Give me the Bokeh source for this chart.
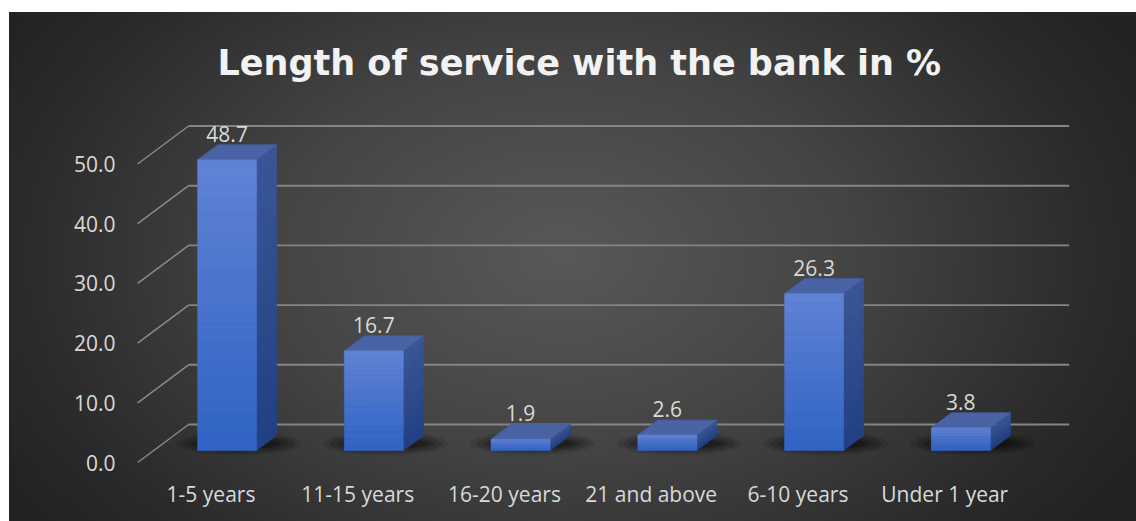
import numpy as np
from bokeh.plotting import figure
from bokeh.models import Range1d, LinearAxis, FixedTicker, NumeralTickFormatter, Title, ColumnDataSource
from bokeh.embed import file_html
from bokeh.resources import INLINE
from bokeh.core.properties import value

# ---------------- data ----------------
categories = ["1-5 years", "11-15 years", "16-20 years", "21 and above", "6-10 years", "Under 1 year"]
values = [48.7, 16.7, 1.9, 2.6, 26.3, 3.8]
y_ticks = [0, 10, 20, 30, 40, 50]
title_text = "Length of service with the bank in %"

# ---------------- layout (pixels) ----------------
W, H = 1136, 521
FRAME_L, FRAME_R, FRAME_T, FRAME_B = 123, 1136, 110, 476
X0_PX, UNIT_X = 210.5, 146.75     # category 0 at front plane, px per category
Y0_PX, UNIT_Y = 462.0, 5.97       # value 0 at front plane, px per unit
x_range = Range1d((FRAME_L - X0_PX) / UNIT_X, (FRAME_R - X0_PX) / UNIT_X)
y_range = Range1d((Y0_PX - FRAME_B) / UNIT_Y, (Y0_PX - FRAME_T) / UNIT_Y)
DEPTH_X, DEPTH_Y = 51 / UNIT_X, 38 / UNIT_Y   # oblique shift for full depth (data units)
Z_FRONT, Z_BACK = 0.316, 0.71                  # bar front / back depth
HALF_W = 29.5 / UNIT_X

p = figure(width=W, height=H, x_range=x_range, y_range=y_range,
           output_backend="svg", toolbar_location=None,
           x_axis_type=None, y_axis_type=None,
           min_border_left=FRAME_L, min_border_right=W - FRAME_R,
           min_border_top=FRAME_T, min_border_bottom=H - FRAME_B,
           border_fill_alpha=0, background_fill_alpha=0, outline_line_color=None)
p.styles = {"background":
            "linear-gradient(#ffffff, #ffffff) 0 0 / 100% 12px no-repeat, "
            "linear-gradient(#ffffff, #ffffff) 0 0 / 9px 100% no-repeat, "
            "radial-gradient(ellipse 640px 430px at 560px 255px, "
            "#585858 0%, #444444 45%, #2a2a2a 85%, #232323 100%)"}

# title
p.title = Title(text=title_text, align="left", offset=94,
                text_font="DejaVu Sans", text_font_style="bold",
                text_font_size="35px", text_color="#f2f2f2", standoff=55)

# axes
yax = LinearAxis(ticker=FixedTicker(ticks=y_ticks), formatter=NumeralTickFormatter(format="0.0"))
xax = LinearAxis(ticker=FixedTicker(ticks=list(range(len(categories)))),
                 major_label_overrides={i: c for i, c in enumerate(categories)})
for ax in (yax, xax):
    ax.axis_line_color = None
    ax.major_tick_line_color = None
    ax.minor_tick_line_color = None
    ax.major_tick_out = 0
    ax.major_tick_in = 0
    ax.major_label_text_color = "#d9d9d9"
    ax.major_label_text_font = "Open Sans"
    ax.major_label_text_font_size = "21px"
yax.major_label_standoff = 8
xax.major_label_standoff = 3
p.add_layout(yax, "left")
p.add_layout(xax, "below")

# back-wall gridlines and side diagonals
gx0 = [-0.5 + DEPTH_X] * len(y_ticks)
gx1 = [len(categories) - 0.5 + DEPTH_X] * len(y_ticks)
gy = [t + DEPTH_Y for t in y_ticks]
p.segment(x0=gx0, y0=gy, x1=gx1, y1=gy, line_color="#858585", line_width=1.9)
p.segment(x0=[-0.5] * len(y_ticks), y0=y_ticks, x1=gx0, y1=gy, line_color="#8a8a8a", line_width=1.5)

# soft floor shadows
sx = [i + 0.55 * DEPTH_X for i in range(len(values))]
sy = [0.5 * DEPTH_Y] * len(values)
for w_, h_, a_ in [(125, 24, 0.10), (112, 19, 0.14), (98, 15, 0.18), (84, 11, 0.24)]:
    p.ellipse(x=sx, y=sy, width=w_, height=h_, width_units="screen", height_units="screen",
              fill_color="black", fill_alpha=a_, line_color=None)

def mix(c1, c2, t):
    return "#%02x%02x%02x" % tuple(int(round(a + (b - a) * t)) for a, b in zip(c1, c2))

FRONT_TOP, FRONT_BOT = (96, 131, 213), (48, 99, 197)
SIDE_TOP, SIDE_BOT = (58, 86, 150), (33, 64, 132)
TOP_COL = "#4a63a4"
N = 16

side_xs, side_ys, side_c = [], [], []
top_xs, top_ys = [], []
fl, fr, fb, ft, fc = [], [], [], [], []
for i, v in enumerate(values):
    xf_l = i - HALF_W + Z_FRONT * DEPTH_X
    xf_r = i + HALF_W + Z_FRONT * DEPTH_X
    xb_l = i - HALF_W + Z_BACK * DEPTH_X
    xb_r = i + HALF_W + Z_BACK * DEPTH_X
    yf = Z_FRONT * DEPTH_Y
    yb = Z_BACK * DEPTH_Y
    for k in range(N):
        y0 = v * k / N
        y1 = v * (k + 1) / N
        t = (k + 0.5) / N
        fl.append(xf_l); fr.append(xf_r); fb.append(y0 + yf); ft.append(y1 + yf)
        fc.append(mix(FRONT_BOT, FRONT_TOP, t))
        side_xs.append([xf_r, xb_r, xb_r, xf_r])
        side_ys.append([y1 + yf, y1 + yb, y0 + yb, y0 + yf])
        side_c.append(mix(SIDE_BOT, SIDE_TOP, t))
    top_xs.append([xf_l, xf_r, xb_r, xb_l])
    top_ys.append([v + yf, v + yf, v + yb, v + yb])

p.patches(xs=side_xs, ys=side_ys, fill_color=side_c, line_color=side_c, line_width=0.6)
p.patches(xs=top_xs, ys=top_ys, fill_color=TOP_COL, line_color="#425c9c", line_width=0.8)
p.quad(left=fl, right=fr, bottom=fb, top=ft, fill_color=fc, line_color=fc, line_width=0.6)

# data labels
lab = ColumnDataSource(dict(
    x=[i + Z_FRONT * DEPTH_X for i in range(len(values))],
    y=[v + Z_BACK * DEPTH_Y for v in values],
    t=["%.1f" % v for v in values]))
p.text(x="x", y="y", text="t", source=lab, text_font=value("Open Sans"),
       text_font_size="21px", text_color="#d9d9d9", text_align="center",
       text_baseline="middle", y_offset=-11)

open("out.html", "w").write(file_html(p, INLINE))
